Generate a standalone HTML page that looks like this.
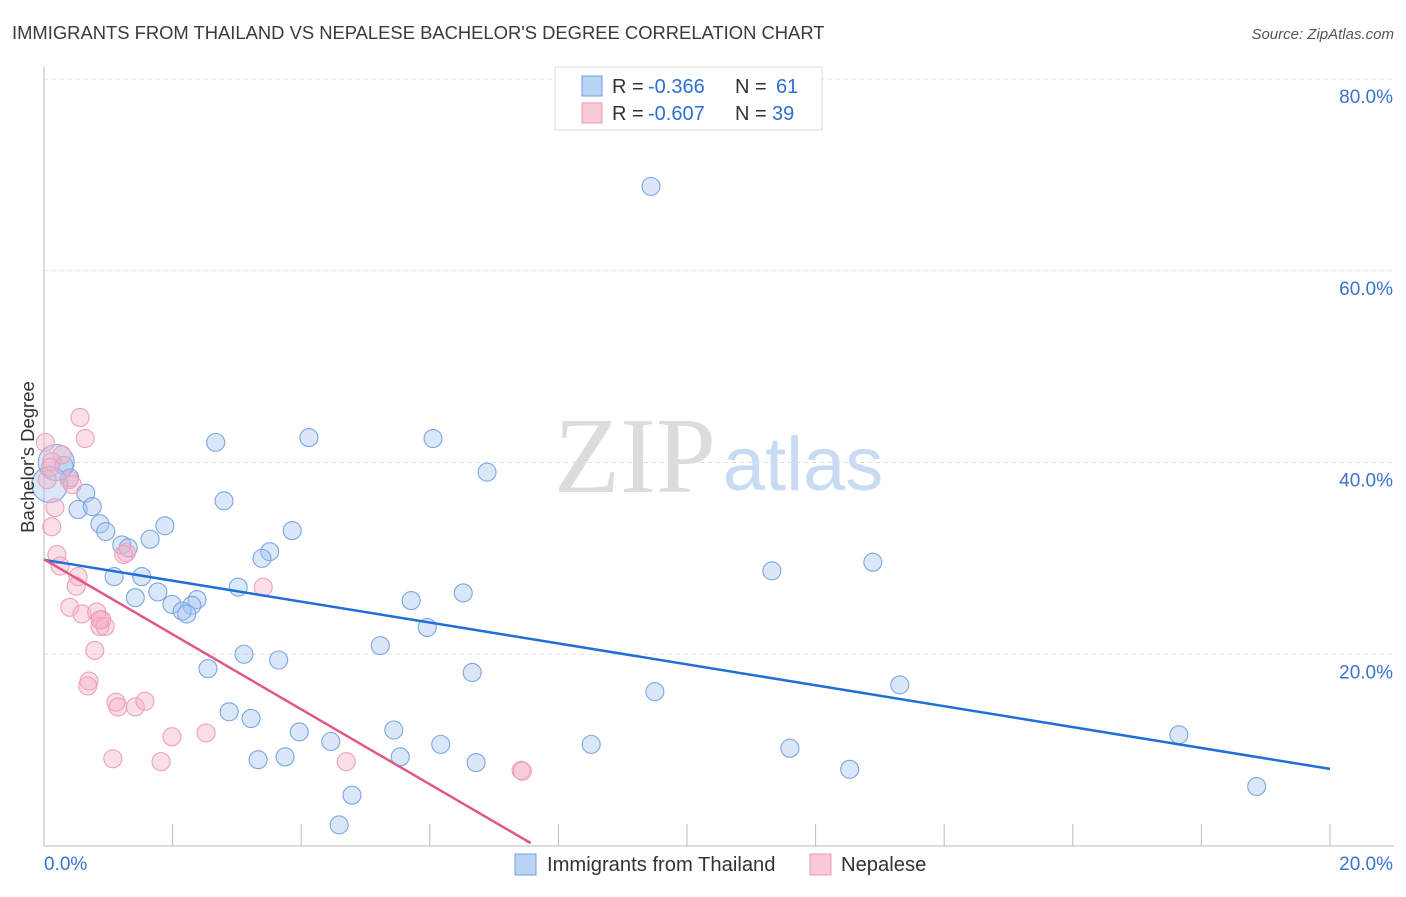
<!DOCTYPE html>
<html><head><meta charset="utf-8"><style>
body{margin:0;background:#fff;font-family:"Liberation Sans",sans-serif}
</style></head><body>
<svg id="chart" width="1406" height="892" xmlns="http://www.w3.org/2000/svg" font-family="Liberation Sans, sans-serif">
<text x="12" y="39" font-size="18.4" fill="#3a3a3a">IMMIGRANTS FROM THAILAND VS NEPALESE BACHELOR'S DEGREE CORRELATION CHART</text>
<text x="1394" y="39" font-size="15" fill="#555" text-anchor="end" font-style="italic">Source: ZipAtlas.com</text>
<g>
<text x="635" y="492" font-size="108" font-family="Liberation Serif, serif" fill="#dcdcdc" text-anchor="middle">ZIP</text>
<text x="803" y="490" font-size="76" fill="#c9dbf3" text-anchor="middle">atlas</text>
</g>
<g id="grid"></g>
<g id="axes"></g>
<g id="marks"></g>
<g>
<rect x="555" y="67" width="267" height="63" fill="#fff" stroke="#ddd"/>
<rect x="582" y="76" width="20" height="20" fill="#b9d3f5" stroke="#6f9fe0"/>
<rect x="582" y="103" width="20" height="20" fill="#f9c9d8" stroke="#ea9ab5"/>
<text x="612" y="93" font-size="20" fill="#333">R =</text>
<text x="648" y="93" font-size="20" fill="#2f6fd0">-0.366</text>
<text x="735" y="93" font-size="20" fill="#333">N =</text>
<text x="776" y="93" font-size="20" fill="#2f6fd0">61</text>
<text x="612" y="120" font-size="20" fill="#333">R =</text>
<text x="648" y="120" font-size="20" fill="#2f6fd0">-0.607</text>
<text x="735" y="120" font-size="20" fill="#333">N =</text>
<text x="772" y="120" font-size="20" fill="#2f6fd0">39</text>
</g>
<g>
<rect x="515" y="854" width="21" height="21" fill="#b9d3f5" stroke="#6f9fe0"/>
<text x="547" y="871" font-size="20.2" fill="#333">Immigrants from Thailand</text>
<rect x="810" y="854" width="21" height="21" fill="#f9c9d8" stroke="#ea9ab5"/>
<text x="841" y="871" font-size="20.2" fill="#333">Nepalese</text>
</g>
<text transform="translate(34,457) rotate(-90)" font-size="18.5" fill="#333" text-anchor="middle">Bachelor's Degree</text>
</svg>
<script>
const yTicks=[20,40,60,80];
const yTickLabels=["20.0%","40.0%","60.0%","80.0%"];
const xTickLabels=["0.0%","20.0%"];
const thaiX=[9.44,4.12,6.05,2.67,6.89,0.31,0.40,0.65,0.53,0.75,2.80,0.87,0.96,1.88,3.86,1.65,1.21,1.31,3.51,3.39,1.09,1.52,3.02,1.77,1.42,1.99,2.38,2.30,2.15,2.22,12.89,11.32,6.52,5.71,5.96,5.23,3.11,3.65,2.55,6.66,9.50,13.31,2.88,3.22,3.97,5.44,4.46,6.17,8.51,11.60,17.65,3.33,3.75,5.54,6.72,12.53,4.79,18.86,4.59,0.19,0.09];
const thaiY=[68.8,42.6,42.5,42.1,39.0,39.7,38.4,36.8,35.1,35.4,36.0,33.6,32.8,33.4,32.9,32.0,31.4,31.1,30.7,30.0,28.1,28.1,27.0,26.5,25.9,25.2,25.7,25.1,24.5,24.2,29.6,28.7,26.4,25.6,22.8,20.9,20.0,19.4,18.5,18.1,16.1,16.8,14.0,13.3,11.9,12.1,10.9,10.6,10.6,10.2,11.6,9.0,9.3,9.3,8.7,8.0,5.3,6.2,2.2,40.0,37.7];
const thaiSize=[1,1,1,1,1,1,1,1,1,1,1,1,1,1,1,1,1,1,1,1,1,1,1,1,1,1,1,1,1,1,1,1,1,1,1,1,1,1,1,1,1,1,1,1,1,1,1,1,1,1,1,1,1,1,1,1,1,1,1,2,2];
const nepX=[0.56,0.64,0.02,0.28,0.12,0.39,0.44,0.05,0.17,0.12,0.20,0.25,0.53,0.50,0.40,0.59,0.82,0.90,0.87,0.95,0.79,0.70,0.68,1.28,3.41,1.12,1.15,1.42,1.57,1.99,2.52,1.07,1.82,4.70,7.42,1.24,0.87,7.44,0.10];
const nepY=[44.7,42.5,42.1,40.8,40.1,38.2,37.7,38.2,35.3,33.3,30.4,29.2,28.1,27.1,24.9,24.2,24.4,23.6,22.9,22.9,20.4,17.2,16.7,30.6,27.0,15.0,14.5,14.5,15.1,11.4,11.8,9.1,8.8,8.8,7.9,30.4,23.6,7.8,39.5];
const thaiTrend=[[0,29.85],[20,8.04]];
const nepTrend=[[0,29.9],[7.57,0.3]];
const NS="http://www.w3.org/2000/svg";
const X0=44,X1=1330,Y0=846,Y80=79;
const sx=v=>X0+(X1-X0)*v/20;
const sy=v=>Y0-(Y0-Y80)*v/80;
function mk(tag,attrs,parent){const e=document.createElementNS(NS,tag);for(const k in attrs)e.setAttribute(k,attrs[k]);document.getElementById(parent).appendChild(e);return e;}
yTicks.forEach((t,i)=>{
 const g=mk('line',{x1:X0,x2:1394,y1:sy(t),y2:sy(t),stroke:'#ddd','stroke-dasharray':'4,4'},'grid');
 
 
 const l=mk('text',{x:1393,y:sy(t)+24,'font-size':19,fill:'#3a72d0','text-anchor':'end'},'grid');
 l.textContent=yTickLabels[i];
 
 
});
const ax=mk('line',{x1:X0,x2:1394,y1:Y0,y2:Y0,stroke:'#bbb'},'axes');


const ay=mk('line',{x1:X0,x2:X0,y1:67,y2:Y0,stroke:'#bbb'},'axes');


for(let v=2;v<=20;v+=2){
 const t=mk('line',{x1:sx(v),x2:sx(v),y1:Y0-22,y2:Y0,stroke:'#bbb'},'axes');
 
 
}
[[0,'start',X0],[20,'end',1393]].forEach((p,i)=>{
 const l=mk('text',{x:p[2],y:870,'font-size':19,fill:'#3a72d0','text-anchor':p[1]},'axes');
 l.textContent=xTickLabels[i];
 
 
});
thaiX.forEach((x,i)=>{
 const c=mk('circle',{cx:sx(x),cy:sy(thaiY[i]),r:9*thaiSize[i],fill:'rgba(160,196,240,0.4)',stroke:'#7aa6e3','stroke-width':1.1},'marks');
 
 
});
nepX.forEach((x,i)=>{
 const c=mk('circle',{cx:sx(x),cy:sy(nepY[i]),r:9,fill:'rgba(246,175,198,0.4)',stroke:'#eea0ba','stroke-width':1.1},'marks');
 
 
});
const tl=mk('line',{x1:sx(thaiTrend[0][0]),y1:sy(thaiTrend[0][1]),x2:sx(thaiTrend[1][0]),y2:sy(thaiTrend[1][1]),stroke:'#1f6fd6','stroke-width':2.5},'marks');


const nl=mk('line',{x1:sx(nepTrend[0][0]),y1:sy(nepTrend[0][1]),x2:sx(nepTrend[1][0]),y2:sy(nepTrend[1][1]),stroke:'#e0588a','stroke-width':2.5},'marks');


</script>
</body></html>
